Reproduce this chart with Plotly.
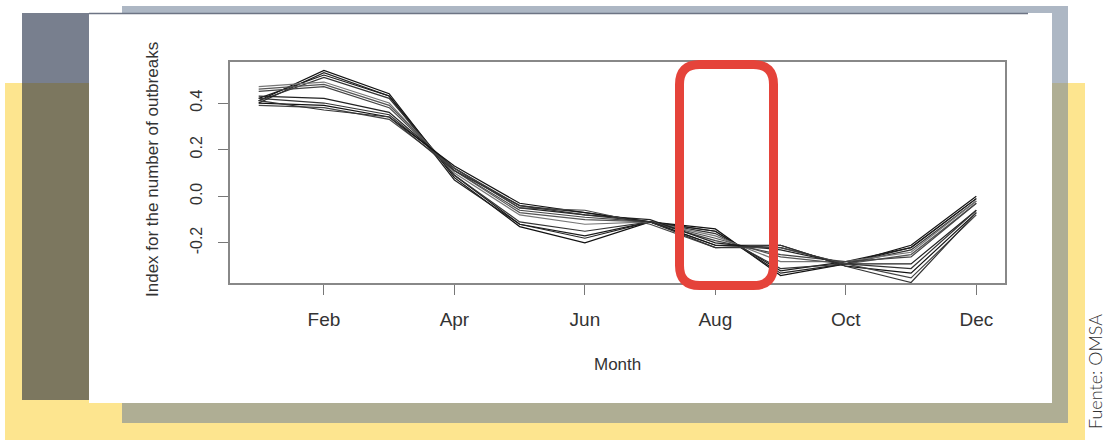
import plotly.graph_objects as go

W, H = 1106, 440

months = list(range(1, 13))
tick_months = [2, 4, 6, 8, 10, 12]
tick_labels = ["Feb", "Apr", "Jun", "Aug", "Oct", "Dec"]
y_ticks = [-0.2, 0.0, 0.2, 0.4]
y_tick_labels = ["-0.2", "0.0", "0.2", "0.4"]

line_a1 = [0.41, 0.54, 0.44, 0.08, -0.13, -0.20, -0.11, -0.14, -0.34, -0.29, -0.21, 0.00]
line_a2 = [0.40, 0.53, 0.43, 0.07, -0.12, -0.18, -0.11, -0.15, -0.33, -0.29, -0.22, -0.01]
line_a3 = [0.42, 0.52, 0.43, 0.09, -0.12, -0.17, -0.11, -0.15, -0.32, -0.28, -0.22, -0.01]
line_a4 = [0.41, 0.51, 0.42, 0.09, -0.11, -0.15, -0.11, -0.16, -0.31, -0.29, -0.23, -0.02]
line_b1 = [0.47, 0.49, 0.40, 0.10, -0.08, -0.12, -0.11, -0.17, -0.28, -0.28, -0.24, -0.02]
line_b2 = [0.46, 0.48, 0.39, 0.11, -0.07, -0.10, -0.11, -0.18, -0.26, -0.29, -0.25, -0.03]
line_b3 = [0.45, 0.47, 0.38, 0.11, -0.06, -0.09, -0.11, -0.19, -0.25, -0.28, -0.26, -0.03]
line_c1 = [0.43, 0.42, 0.36, 0.12, -0.05, -0.08, -0.10, -0.20, -0.23, -0.29, -0.29, -0.06]
line_c2 = [0.42, 0.40, 0.35, 0.12, -0.04, -0.07, -0.11, -0.21, -0.22, -0.29, -0.31, -0.06]
line_c3 = [0.40, 0.39, 0.34, 0.13, -0.03, -0.07, -0.11, -0.21, -0.21, -0.30, -0.33, -0.07]
line_c4 = [0.39, 0.38, 0.33, 0.12, -0.05, -0.06, -0.12, -0.22, -0.22, -0.29, -0.35, -0.08]
line_c5 = [0.41, 0.37, 0.34, 0.11, -0.04, -0.08, -0.11, -0.22, -0.21, -0.30, -0.37, -0.07]

all_lines = [line_a1, line_a2, line_a3, line_a4, line_b1, line_b2, line_b3,
             line_c1, line_c2, line_c3, line_c4, line_c5]
line_colors = ["#111111", "#222222", "#1a1a1a", "#333333", "#777777", "#555555",
               "#444444", "#222222", "#333333", "#111111", "#444444", "#333333"]


def px(x):
    return x / W


def py(y):
    return 1 - y / H


fig = go.Figure()
for vals, col in zip(all_lines, line_colors):
    fig.add_trace(go.Scatter(x=months, y=vals, mode="lines",
                             line=dict(color=col, width=1.2),
                             showlegend=False, hoverinfo="skip"))


def rect(x0, y0, x1, y1, color, layer="below"):
    return dict(type="rect", xref="paper", yref="paper",
                x0=px(x0), x1=px(x1), y0=py(y1), y1=py(y0),
                fillcolor=color, line=dict(width=0), layer=layer)


shapes = [
    rect(5, 83, 1085, 440, "#fde58f"),
    rect(122, 6, 1068, 83, "#adb7c4"),
    rect(122, 83, 1068, 423, "#afae94"),
    rect(22, 13, 89, 83, "#787f8e"),
    rect(22, 83, 89, 400, "#7c775f"),
    rect(89, 13, 1052, 403, "#ffffff"),
    dict(type="line", xref="paper", yref="paper", x0=px(89), x1=px(1028),
         y0=py(13.5), y1=py(13.5), line=dict(color="#6d7484", width=1.5),
         layer="below"),
]

# red rounded rectangle (center line of stroke)
x0, x1, y0, y1, r = 679.5, 773.5, 64.5, 285.5, 20
path = (f"M {px(x0 + r)},{py(y0)} L {px(x1 - r)},{py(y0)} "
        f"Q {px(x1)},{py(y0)} {px(x1)},{py(y0 + r)} "
        f"L {px(x1)},{py(y1 - r)} Q {px(x1)},{py(y1)} {px(x1 - r)},{py(y1)} "
        f"L {px(x0 + r)},{py(y1)} Q {px(x0)},{py(y1)} {px(x0)},{py(y1 - r)} "
        f"L {px(x0)},{py(y0 + r)} Q {px(x0)},{py(y0)} {px(x0 + r)},{py(y0)} Z")
shapes.append(dict(type="path", xref="paper", yref="paper", path=path,
                   line=dict(color="#e5433a", width=9), layer="above"))

axis_font = dict(family="Liberation Sans, Arial, sans-serif", color="#333333")

fig.update_layout(
    width=W, height=H,
    margin=dict(l=0, r=0, t=0, b=0),
    paper_bgcolor="#ffffff",
    plot_bgcolor="#ffffff",
    shapes=shapes,
    xaxis=dict(domain=[px(230), px(1005)], range=[0.56, 12.44],
               tickmode="array", tickvals=tick_months, ticktext=tick_labels,
               ticks="outside", ticklen=10, tickcolor="#777777", tickwidth=1.3,
               showline=True, mirror=True, linecolor="#888888", linewidth=1.5,
               showgrid=False, zeroline=False,
               tickfont=dict(size=19, **axis_font), ticklabelstandoff=8),
    yaxis=dict(domain=[py(283), py(62)], range=[-0.372, 0.576],
               tickmode="array", tickvals=y_ticks, ticktext=y_tick_labels,
               tickangle=-90,
               ticks="outside", ticklen=10, tickcolor="#777777", tickwidth=1.3,
               showline=True, mirror=True, linecolor="#888888", linewidth=1.5,
               showgrid=False, zeroline=False,
               tickfont=dict(size=16, **axis_font), ticklabelstandoff=10),
    annotations=[
        dict(text="Index for the number of outbreaks", xref="paper", yref="paper",
             x=px(152), y=py(170), textangle=-90, showarrow=False,
             font=dict(size=17, **axis_font), xanchor="center", yanchor="middle"),
        dict(text="Month", xref="paper", yref="paper",
             x=px(617), y=py(364), showarrow=False,
             font=dict(size=17, **axis_font), xanchor="center", yanchor="middle"),
        dict(text="Fuente: OMSA", xref="paper", yref="paper",
             x=px(1095), y=py(372), textangle=-90, showarrow=False,
             font=dict(size=18, family="Lato, Noto Sans, sans-serif", color="#333333",
                       weight=300),
             xanchor="center", yanchor="middle"),
    ],
)

fig.write_html("out.html", config={"displayModeBar": False},
               post_script="document.body.style.margin='0';")
